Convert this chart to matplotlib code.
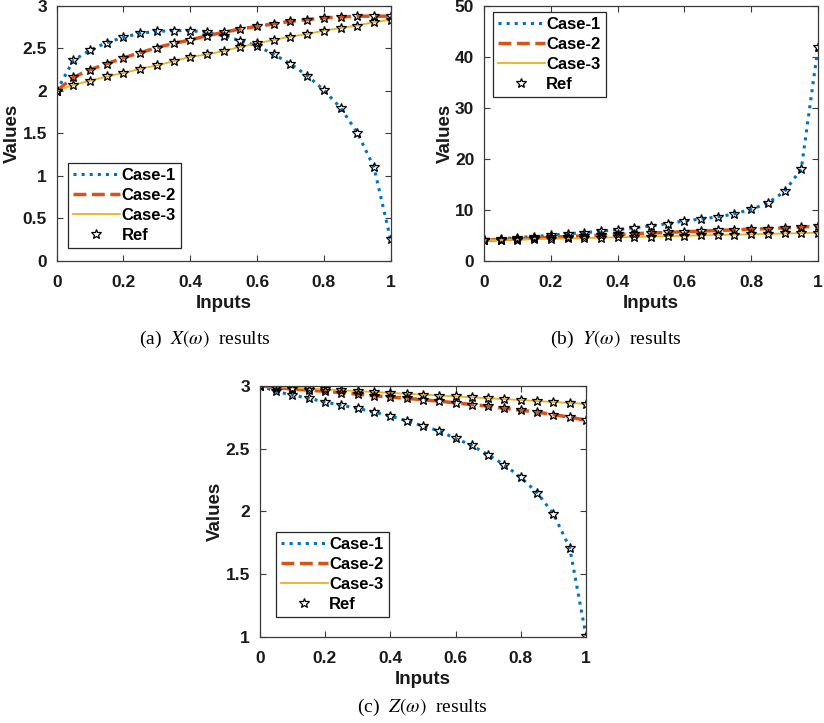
import matplotlib.pyplot as plt
from matplotlib.ticker import FormatStrFormatter

plt.rcParams['font.family'] = ['Liberation Sans', 'DejaVu Sans']
plt.rcParams['mathtext.fontset'] = 'stix'

inputs = [0.0, 0.05, 0.1, 0.15, 0.2, 0.25, 0.3, 0.35, 0.4, 0.45, 0.5,
          0.55, 0.6, 0.65, 0.7, 0.75, 0.8, 0.85, 0.9, 0.95, 1.0]

# (a) X(w)
x_case1 = [2.0, 2.36, 2.48, 2.57, 2.63, 2.68, 2.70, 2.71, 2.71, 2.69, 2.65,
           2.59, 2.53, 2.43, 2.32, 2.18, 2.01, 1.80, 1.51, 1.10, 0.25]
x_case2 = [2.0, 2.16, 2.25, 2.32, 2.39, 2.45, 2.51, 2.56, 2.60, 2.65, 2.69,
           2.73, 2.76, 2.79, 2.82, 2.84, 2.86, 2.87, 2.88, 2.88, 2.88]
x_case3 = [2.0, 2.07, 2.12, 2.17, 2.21, 2.26, 2.30, 2.35, 2.40, 2.43, 2.47,
           2.52, 2.56, 2.60, 2.64, 2.67, 2.71, 2.74, 2.77, 2.81, 2.84]

# (b) Y(w)
y_case1 = [4.0, 4.3, 4.55, 4.75, 5.0, 5.3, 5.5, 5.8, 6.1, 6.45, 6.8,
           7.3, 7.8, 8.2, 8.6, 9.2, 10.1, 11.3, 13.6, 18.0, 41.9]
y_case2 = [4.0, 4.15, 4.3, 4.45, 4.6, 4.75, 4.9, 5.0, 5.15, 5.3, 5.45,
           5.55, 5.7, 5.8, 5.95, 6.05, 6.2, 6.3, 6.45, 6.6, 6.8]
y_case3 = [4.0, 4.07, 4.15, 4.22, 4.3, 4.37, 4.45, 4.52, 4.6, 4.67, 4.75,
           4.82, 4.9, 4.97, 5.05, 5.12, 5.2, 5.27, 5.35, 5.42, 5.5]

# (c) Z(w)
z_case1 = [3.0, 2.955, 2.925, 2.90, 2.87, 2.845, 2.82, 2.79, 2.76, 2.72, 2.68,
           2.64, 2.58, 2.525, 2.45, 2.37, 2.27, 2.15, 1.98, 1.71, 1.01]
z_case2 = [3.0, 2.985, 2.973, 2.965, 2.955, 2.945, 2.933, 2.92, 2.91, 2.90, 2.888,
           2.877, 2.864, 2.85, 2.837, 2.82, 2.805, 2.79, 2.77, 2.75, 2.725]
z_case3 = [3.0, 2.992, 2.985, 2.978, 2.971, 2.964, 2.957, 2.950, 2.943, 2.936, 2.929,
           2.922, 2.915, 2.908, 2.900, 2.893, 2.886, 2.878, 2.870, 2.863, 2.855]

panels = [
    dict(rect=[0.0688, 0.6394, 0.4053, 0.3523], data=(x_case1, x_case2, x_case3),
         ylim=(0, 3), yticks=[0, 0.5, 1, 1.5, 2, 2.5, 3],
         caption=r'(a)  $X(\omega)$  results', cap_xy=(0.249, 0.531),
         leg=dict(loc='lower left', bbox_to_anchor=(0.034, 0.05))),
    dict(rect=[0.5874, 0.6394, 0.4053, 0.3523], data=(y_case1, y_case2, y_case3),
         ylim=(0, 50), yticks=[0, 10, 20, 30, 40, 50],
         caption=r'(b)  $Y(\omega)$  results', cap_xy=(0.747, 0.531),
         leg=dict(loc='upper left', bbox_to_anchor=(0.027, 0.976))),
    dict(rect=[0.3152, 0.1189, 0.3960, 0.3476], data=(z_case1, z_case2, z_case3),
         ylim=(1, 3), yticks=[1, 1.5, 2, 2.5, 3],
         caption=r'(c)  $Z(\omega)$  results', cap_xy=(0.512, 0.021),
         leg=dict(loc='lower left', bbox_to_anchor=(0.05, 0.08))),
]

fig = plt.figure(figsize=(8.24, 7.23), dpi=100)
axis_col = '#3a3a3a'
text_col = '#1a1a1a'

for p in panels:
    ax = fig.add_axes(p['rect'])
    c1, c2, c3 = p['data']
    ax.plot(inputs, c1, linestyle=':', color='#0072BD', lw=2.2, label='Case-1')
    ax.plot(inputs, c2, linestyle='--', color='#D95319', lw=2.5, label='Case-2')
    ax.plot(inputs, c3, linestyle='-', color='#EDB120', lw=1.3, label='Case-3')
    for i, c in enumerate((c1, c2, c3)):
        ax.plot(inputs, c, linestyle='none', marker='*', markersize=7.5,
                markerfacecolor='none', markeredgecolor='k', markeredgewidth=0.9,
                label='Ref' if i == 0 else None)
    ax.set_xlim(0, 1)
    ax.set_ylim(*p['ylim'])
    ax.set_xticks([0, 0.2, 0.4, 0.6, 0.8, 1])
    ax.set_yticks(p['yticks'])
    ax.xaxis.set_major_formatter(FormatStrFormatter('%g'))
    ax.yaxis.set_major_formatter(FormatStrFormatter('%g'))
    ax.tick_params(direction='in', length=4, width=0.8, top=True, right=True,
                   colors=axis_col, labelsize=12.5)
    ax.tick_params(axis='x', pad=10)
    ax.tick_params(axis='y', pad=7)
    for lab in ax.get_xticklabels() + ax.get_yticklabels():
        lab.set_fontweight('bold')
        lab.set_color(text_col)
    for s in ax.spines.values():
        s.set_color(axis_col)
        s.set_linewidth(0.9)
    ax.set_xlabel('Inputs', fontsize=13.5, fontweight='bold', color=text_col, labelpad=4)
    ax.set_ylabel('Values', fontsize=13.5, fontweight='bold', color=text_col, labelpad=1)
    leg = ax.legend(prop={'weight': 'bold', 'size': 12}, fancybox=False,
                    edgecolor='#262626', framealpha=1, handlelength=2.8,
                    handletextpad=0.1, labelspacing=0.3, borderpad=0.3,
                    borderaxespad=0, **p['leg'])
    leg.get_frame().set_linewidth(0.9)
    fig.text(p['cap_xy'][0], p['cap_xy'][1], p['caption'], ha='center', va='center',
             fontsize=14, family='Liberation Serif')

fig.savefig('out.png', dpi=100)
